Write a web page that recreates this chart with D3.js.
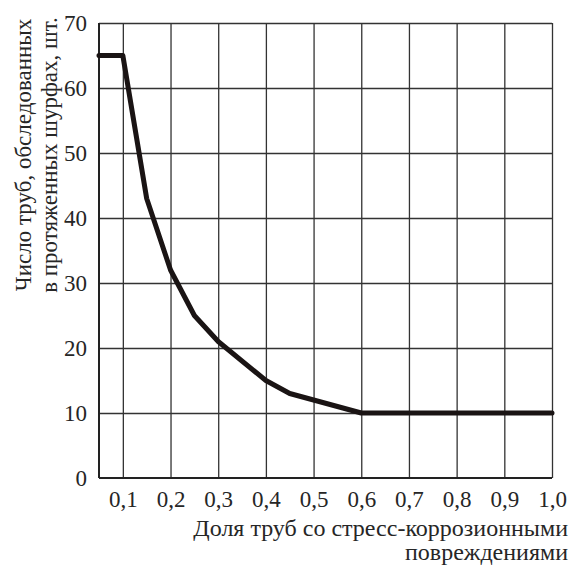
<!DOCTYPE html>
<html>
<head>
<meta charset="utf-8">
<script src="https://cdn.jsdelivr.net/npm/d3@7"></script>
<style>
  html, body { margin: 0; padding: 0; background: #fff; }
  svg { display: block; }
  text { font-family: "Liberation Serif", "Times New Roman", serif; fill: #262626; }
</style>
</head>
<body>
<script>
// Share of pipes with stress-corrosion damage vs. number of pipes inspected
const shareValues = [0.05, 0.1, 0.15, 0.2, 0.25, 0.3, 0.4, 0.45, 0.6, 1.0];
const pipeCounts  = [65,   65,  43,   32,  25,   21,  15,  13,   10,  10];
const xTickValues = [0.1, 0.2, 0.3, 0.4, 0.5, 0.6, 0.7, 0.8, 0.9, 1.0];
const yTickValues = [0, 10, 20, 30, 40, 50, 60, 70];
const xTitleLines = ["Доля труб со стресс-коррозионными", "повреждениями"];
const yTitleLines = ["Число труб, обследованных", "в протяженных шурфах, шт."];

const W = 569, H = 569;
const margin = { left: 99, right: 17, top: 23, bottom: 91 };
const FS = 23;

const svg = d3.select("body").append("svg").attr("width", W).attr("height", H);

const x = d3.scaleLinear().domain([0.05, 1.0]).range([margin.left, W - margin.right]);
const y = d3.scaleLinear().domain([0, 70]).range([H - margin.bottom, margin.top]);

const fmt = d => d3.format(".1f")(d).replace(".", ",");

// grid
svg.append("g").attr("class", "grid-x")
  .attr("transform", `translate(0,${H - margin.bottom})`)
  .call(d3.axisBottom(x).tickValues(xTickValues).tickSize(-(H - margin.top - margin.bottom)).tickFormat(""))
  .call(g => g.select(".domain").remove())
  .call(g => g.selectAll("line").attr("stroke", "#333").attr("stroke-width", 1.3));

svg.append("g").attr("class", "grid-y")
  .attr("transform", `translate(${margin.left},0)`)
  .call(d3.axisLeft(y).tickValues(yTickValues.slice(1)).tickSize(-(W - margin.left - margin.right)).tickFormat(""))
  .call(g => g.select(".domain").remove())
  .call(g => g.selectAll("line").attr("stroke", "#333").attr("stroke-width", 1.3));

// axes with labels
svg.append("g")
  .attr("transform", `translate(0,${H - margin.bottom})`)
  .call(d3.axisBottom(x).tickValues(xTickValues).tickSize(0).tickPadding(13).tickFormat(fmt))
  .call(g => g.select(".domain").attr("stroke", "#222").attr("stroke-width", 2).attr("d", `M${margin.left},0H${W - margin.right}`))
  .call(g => g.selectAll("text").attr("font-size", FS));

svg.append("g")
  .attr("transform", `translate(${margin.left},0)`)
  .call(d3.axisLeft(y).tickValues(yTickValues).tickSize(0).tickPadding(12).tickFormat(d3.format("d")))
  .call(g => g.select(".domain").attr("stroke", "#222").attr("stroke-width", 2).attr("d", `M0,${H - margin.bottom}V${margin.top}`))
  .call(g => g.selectAll("text").attr("font-size", FS));

// curve
const pts = shareValues.map((v, i) => [v, pipeCounts[i]]);
svg.append("path")
  .datum(pts)
  .attr("fill", "none")
  .attr("stroke", "#1a1414")
  .attr("stroke-width", 5)
  .attr("stroke-linejoin", "round")
  .attr("stroke-linecap", "round")
  .attr("d", d3.line().x(d => x(d[0])).y(d => y(d[1])));

// x title (right aligned)
svg.append("g").selectAll("text")
  .data(xTitleLines)
  .join("text")
  .attr("x", W - 1)
  .attr("y", (d, i) => 536 + i * 24)
  .attr("text-anchor", "end")
  .attr("font-size", 24)
  .text(d => d);

// y title (rotated, two lines)
svg.append("g")
  .attr("transform", "translate(0,155) rotate(-90)")
  .selectAll("text")
  .data(yTitleLines)
  .join("text")
  .attr("x", 0)
  .attr("y", (d, i) => 31 + i * 26)
  .attr("text-anchor", "middle")
  .attr("font-size", FS)
  .text(d => d);
</script>
</body>
</html>
